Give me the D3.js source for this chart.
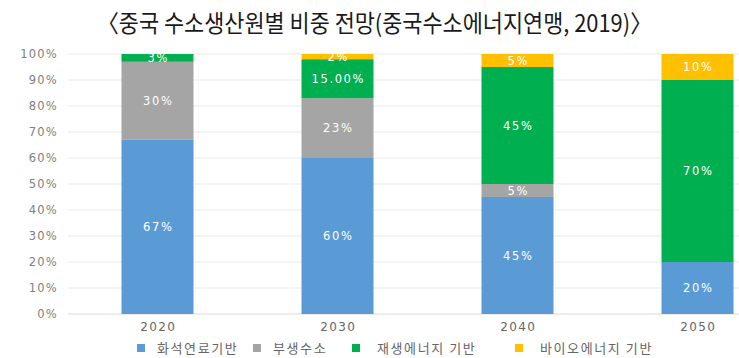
<!DOCTYPE html>
<html>
<head>
<meta charset="utf-8">
<script src="https://cdn.jsdelivr.net/npm/d3@7"></script>
<style>
  html, body { margin: 0; padding: 0; background: #fff; }
  svg { display: block; }
</style>
</head>
<body>
<svg id="chart" width="739" height="358"></svg>
<script>
const title = "〈중국 수소생산원별 비중 전망(중국수소에너지연맹, 2019)〉";
const categories = ["2020", "2030", "2040", "2050"];
const seriesNames = ["화석연료기반", "부생수소", "재생에너지 기반", "바이오에너지 기반"];
const seriesColors = ["#5B9BD5", "#A5A5A5", "#00B050", "#FFC000"];
const fossil = [67, 60, 45, 20];
const byproduct = [30, 23, 5, 0];
const renewable = [3, 15, 45, 70];
const bio = [0, 2, 5, 10];
const fossilLabels = ["67%", "60%", "45%", "20%"];
const byproductLabels = ["30%", "23%", "5%", ""];
const renewableLabels = ["3%", "15.00%", "45%", "70%"];
const bioLabels = ["", "2%", "5%", "10%"];
const yTicks = [0, 10, 20, 30, 40, 50, 60, 70, 80, 90, 100];

const seriesValues = [fossil, byproduct, renewable, bio];
const seriesLabels = [fossilLabels, byproductLabels, renewableLabels, bioLabels];

const svg = d3.select("#chart");

// title
svg.append("text")
  .attr("x", 374.5).attr("y", 32)
  .attr("text-anchor", "middle")
  .attr("font-family", "'Noto Sans CJK KR', sans-serif")
  .attr("font-size", 24)
  .attr("fill", "#1a1a1a")
  .attr("textLength", 555)
  .attr("lengthAdjust", "spacingAndGlyphs")
  .text(title);

const x = d3.scaleBand().domain(categories).range([67.5, 787.5])
  .paddingInner(0.6).paddingOuter(0.3);
const y = d3.scaleLinear().domain([0, 100]).range([314, 54]);

// gridlines
svg.append("g").selectAll("line").data(yTicks).join("line")
  .attr("x1", 68).attr("x2", 739)
  .attr("y1", d => y(d)).attr("y2", d => y(d))
  .attr("stroke", d => d === 0 ? "#d9d9d9" : "#e9e9e9")
  .attr("stroke-width", 1);

// y labels
svg.append("g").selectAll("text").data(yTicks).join("text")
  .attr("x", 58).attr("y", d => y(d))
  .attr("dy", "0.35em")
  .attr("text-anchor", "end")
  .attr("font-family", "'DejaVu Sans', sans-serif")
  .attr("font-size", 11.5)
  .attr("letter-spacing", 1.2)
  .attr("fill", "#808080")
  .text(d => d + "%");

// stacked data
const rows = categories.map((c, i) => {
  const o = { cat: c };
  seriesNames.forEach((s, k) => o[s] = seriesValues[k][i]);
  return o;
});
const stack = d3.stack().keys(seriesNames)(rows);

const g = svg.append("g");
stack.forEach((layer, k) => {
  g.append("g").selectAll("rect").data(layer).join("rect")
    .attr("x", d => x(d.data.cat))
    .attr("width", x.bandwidth())
    .attr("y", d => y(d[1]))
    .attr("height", d => y(d[0]) - y(d[1]))
    .attr("fill", seriesColors[k]);
});
stack.forEach((layer, k) => {
  g.append("g").selectAll("text").data(layer.map((d, i) => ({ d, i }))).join("text")
    .filter(o => seriesLabels[k][o.i] !== "")
    .attr("x", o => x(o.d.data.cat) + x.bandwidth() / 2 + 0.8)
    .attr("y", o => (y(o.d[0]) + y(o.d[1])) / 2)
    .attr("dy", "0.35em")
    .attr("text-anchor", "middle")
    .attr("font-family", "'DejaVu Sans', sans-serif")
    .attr("font-size", 11.5)
    .attr("letter-spacing", 1.6)
    .attr("fill", "#ffffff")
    .text(o => seriesLabels[k][o.i]);
});

// x labels
svg.append("g").selectAll("text").data(categories).join("text")
  .attr("x", d => x(d) + x.bandwidth() / 2 + 0.7)
  .attr("y", 327).attr("dy", "0.35em")
  .attr("text-anchor", "middle")
  .attr("font-family", "'DejaVu Sans', sans-serif")
  .attr("font-size", 12)
  .attr("letter-spacing", 1.4)
  .attr("fill", "#666666")
  .text(d => d);

// legend
const legendX = [137, 253, 352, 515];
const leg = svg.append("g");
seriesNames.forEach((s, k) => {
  leg.append("rect")
    .attr("x", legendX[k]).attr("y", 344)
    .attr("width", 8).attr("height", 8)
    .attr("fill", seriesColors[k]);
  leg.append("text")
    .attr("x", legendX[k] + 18 + (k >= 2 ? 7 : 2)).attr("y", 348)
    .attr("dy", "0.35em")
    .attr("font-family", "'Noto Sans CJK KR', sans-serif")
    .attr("font-size", 13)
    .attr("letter-spacing", 1.6)
    .attr("fill", "#666666")
    .text(s);
});
</script>
</body>
</html>
